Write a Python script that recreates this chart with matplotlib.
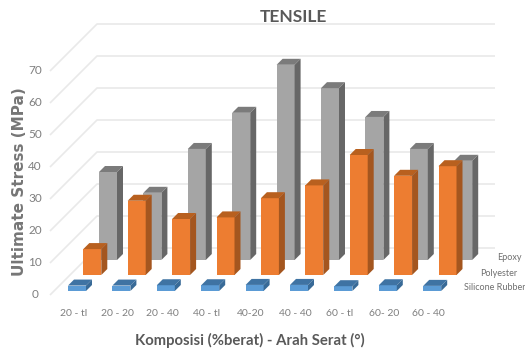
import matplotlib
matplotlib.use("Agg")
import matplotlib.pyplot as plt
from matplotlib.patches import Polygon

categories = ["20 - tl", "20 - 20", "20 - 40", "40 - tl", "40-20", "40 - 40", "60 - tl", "60- 20", "60 - 40"]
silicone = [1.7, 1.7, 1.8, 1.8, 1.9, 1.9, 1.5, 1.8, 1.6]
polyester = [8.1, 23.2, 17.5, 18.0, 24.0, 28.0, 37.5, 31.0, 34.0]
epoxy = [27.5, 21.0, 34.7, 46.0, 61.0, 53.7, 44.7, 34.7, 31.0]
y_ticks = [0, 10, 20, 30, 40, 50, 60, 70]

W, H = 525, 356
STEP = 44.4        # pixels per category
UNIT = 3.2         # pixels per MPa
X0 = 68.0          # left edge of the first front bar, in pixels
Y0 = 295.0         # pixel row of value 0 at the front of the floor

plt.rcParams["font.family"] = ["Lato", "DejaVu Sans"]

fig = plt.figure(figsize=(W / 100, H / 100), dpi=100)
ax = fig.add_axes([0, 0, 1, 1])
ax.set_xlim(-X0 / STEP, (W - X0) / STEP)
ax.set_ylim(-(H - Y0) / UNIT, Y0 / UNIT)
ax.axis("off")

px = lambda p: p / STEP    # horizontal pixels to category units
py = lambda p: p / UNIT    # vertical pixels to MPa units

# floor and back-wall gridlines
for v in y_ticks:
    xs = [px(50 - X0), px(97 - X0), px(495 - X0)]
    ys = [v, v + py(47), v + py(47)]
    ax.plot(xs, ys, color="#e9e9e9", lw=1.2, zorder=1, solid_capstyle="butt")
    ax.text(px(35 - X0), v, str(v), ha="center", va="center", fontsize=8.5, color="#7f7f7f")

BAR_W = px(18)
DX, DY = px(6), py(6)


def draw_series(values, shift, lift, front, top, side, z):
    lefts = [i + px(shift) for i in range(len(values))]
    base = py(lift)
    ax.bar(lefts, values, width=BAR_W, bottom=base, align="edge", color=front,
           edgecolor="none", zorder=z)
    for x, v in zip(lefts, values):
        t = base + v
        ax.add_patch(Polygon([(x, t), (x + BAR_W, t), (x + BAR_W + DX, t + DY), (x + DX, t + DY)],
                             closed=True, facecolor=top, edgecolor="none", zorder=z))
        ax.add_patch(Polygon([(x + BAR_W, base), (x + BAR_W + DX, base + DY),
                              (x + BAR_W + DX, t + DY), (x + BAR_W, t)],
                             closed=True, facecolor=side, edgecolor="none", zorder=z))


draw_series(epoxy, 31, 35, "#a5a5a5", "#7b7b7b", "#676767", 2)
draw_series(polyester, 15.3, 20, "#ed7d31", "#b8601f", "#a4561f", 3)
draw_series(silicone, 0, 4, "#5b9bd5", "#3f73a3", "#386a97", 4)

for i, name in enumerate(categories):
    ax.text(i + px(5.5), py(-19), name, ha="center", va="center", fontsize=7.5, color="#7f7f7f")

ax.text(px(522 - X0), py(Y0 - 257), "Epoxy", ha="right", va="center", fontsize=6.5, color="#6f6f6f")
ax.text(px(517 - X0), py(Y0 - 273), "Polyester", ha="right", va="center", fontsize=6.5, color="#6f6f6f")
ax.text(px(525 - X0), py(Y0 - 288), "Silicone Rubber", ha="right", va="center", fontsize=6.5, color="#6f6f6f")

ax.text(px(293 - X0), py(Y0 - 17), "TENSILE", ha="center", va="center", fontsize=12.5,
        fontweight="bold", color="#595959")
ax.text(px(250 - X0), py(Y0 - 340), "Komposisi (%berat) - Arah Serat (°)", ha="center", va="center",
        fontsize=10.7, fontweight="bold", color="#595959")
ax.text(px(19 - X0), py(Y0 - 182), "Ultimate Stress (MPa)", ha="center", va="center", rotation=90,
        fontsize=11, fontweight="bold", color="#767676", family=["DejaVu Sans"])

fig.savefig("out.png", dpi=100)
